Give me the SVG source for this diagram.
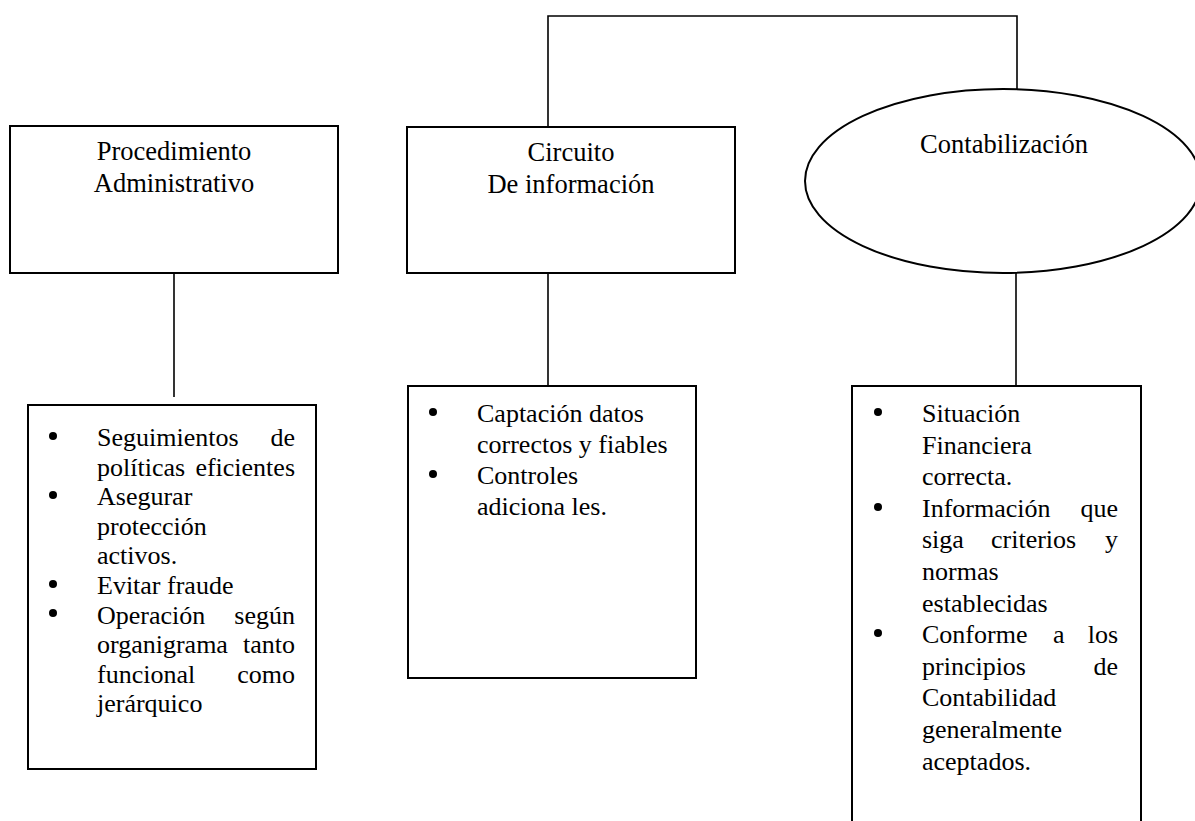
<svg xmlns="http://www.w3.org/2000/svg" width="1195" height="821" viewBox="0 0 1195 821">
<style>
.box{fill:#fff;stroke:#000;stroke-width:2}
.ln{fill:none;stroke:#000;stroke-width:1.6}
text{font-family:"Liberation Serif","Times New Roman",serif;font-size:26px;fill:#000}
.h{font-size:26.5px;text-anchor:middle}
.r{text-anchor:end}
.b{fill:#000}
</style>
<rect width="1195" height="821" fill="#fff"/>
<g id="connectors">
<polyline class="ln" points="548,127 548,16 1017,16 1017,89"/>
<line class="ln" x1="174" y1="273" x2="174" y2="397"/>
<line class="ln" x1="548" y1="273" x2="548" y2="386"/>
<line class="ln" x1="1016" y1="273" x2="1016" y2="386"/>
</g>
<g id="proc">
<rect class="box" x="10" y="126" width="328" height="147"/>
<text class="h" x="174" y="160">Procedimiento</text>
<text class="h" x="174" y="192">Administrativo</text>
</g>
<g id="circ">
<rect class="box" x="407" y="127" width="328" height="146"/>
<text class="h" x="571" y="161">Circuito</text>
<text class="h" x="571" y="193">De información</text>
</g>
<g id="cont">
<ellipse class="box" cx="1003" cy="181" rx="198" ry="92"/>
<text class="h" x="1004" y="153">Contabilización</text>
</g>
<g id="list1">
<rect class="box" x="28" y="405" width="288" height="364"/>
<circle class="b" cx="53" cy="436" r="4"/>
<circle class="b" cx="53" cy="495" r="4"/>
<circle class="b" cx="53" cy="584" r="4"/>
<circle class="b" cx="53" cy="613" r="4"/>
<text x="97" y="446">Seguimientos</text><text class="r" x="295" y="446">de</text>
<text x="97" y="475.6">políticas</text><text class="r" x="295" y="475.6">eficientes</text>
<text x="97" y="505.2">Asegurar</text>
<text x="97" y="534.8">protección</text>
<text x="97" y="564.4">activos.</text>
<text x="97" y="594">Evitar fraude</text>
<text x="97" y="623.6">Operación</text><text class="r" x="295" y="623.6">según</text>
<text x="97" y="653.2">organigrama</text><text class="r" x="295" y="653.2">tanto</text>
<text x="97" y="682.8">funcional</text><text class="r" x="295" y="682.8">como</text>
<text x="97" y="712.4">jerárquico</text>
</g>
<g id="list2">
<rect class="box" x="408" y="386" width="288" height="292"/>
<circle class="b" cx="433" cy="412" r="4"/>
<circle class="b" cx="433" cy="474" r="4"/>
<text x="477" y="422">Captación datos</text>
<text x="477" y="453">correctos y fiables</text>
<text x="477" y="484">Controles</text>
<text x="477" y="515">adiciona les.</text>
</g>
<g id="list3">
<rect class="box" x="852" y="386" width="289" height="450"/>
<circle class="b" cx="878" cy="412" r="4"/>
<circle class="b" cx="878" cy="507" r="4"/>
<circle class="b" cx="878" cy="633" r="4"/>
<text x="922" y="422">Situación</text>
<text x="922" y="453.6">Financiera</text>
<text x="922" y="485.2">correcta.</text>
<text x="922" y="516.8">Información</text><text class="r" x="1118" y="516.8">que</text>
<text x="922" y="548.4">siga</text><text x="991" y="548.4">criterios</text><text class="r" x="1118" y="548.4">y</text>
<text x="922" y="580">normas</text>
<text x="922" y="611.6">establecidas</text>
<text x="922" y="643.2">Conforme</text><text x="1053" y="643.2">a</text><text class="r" x="1118" y="643.2">los</text>
<text x="922" y="674.8">principios</text><text class="r" x="1118" y="674.8">de</text>
<text x="922" y="706.4">Contabilidad</text>
<text x="922" y="738">generalmente</text>
<text x="922" y="769.6">aceptados.</text>
</g>
</svg>
